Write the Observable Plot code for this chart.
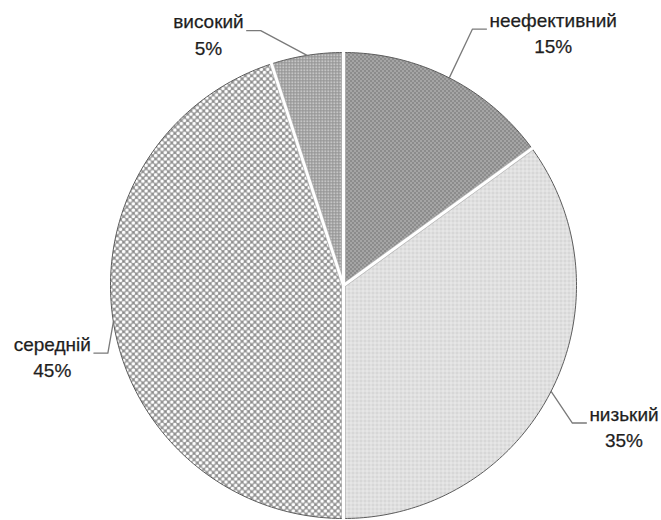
<!DOCTYPE html>
<html>
<head>
<meta charset="utf-8">
<script src="https://cdn.jsdelivr.net/npm/d3@7"></script>
<script src="https://cdn.jsdelivr.net/npm/@observablehq/plot@0.6"></script>
<style>
  html, body { margin: 0; padding: 0; background: #ffffff; }
  #chart { width: 661px; height: 520px; }
</style>
</head>
<body>
<!-- hatch fills used by the pie slices -->
<svg width="0" height="0" style="position:absolute">
  <defs>
    <pattern id="p-neef" width="4" height="4" patternUnits="userSpaceOnUse">
      <rect width="4" height="4" fill="#959595"/>
      <rect x="0" y="0" width="1" height="1" fill="#d4d4d4"/>
      <rect x="2" y="2" width="1" height="1" fill="#d4d4d4"/>
      <rect x="2" y="0" width="1" height="1" fill="#707070"/>
      <rect x="0" y="2" width="1" height="1" fill="#707070"/>
    </pattern>
    <pattern id="p-nyz" width="4" height="4" patternUnits="userSpaceOnUse">
      <rect width="4" height="4" fill="#e6e6e6"/>
      <rect x="0" y="0" width="1" height="1" fill="#a8a8a8"/>
      <rect x="2" y="0" width="1" height="1" fill="#cdcdcd"/>
      <rect x="0" y="2" width="1" height="1" fill="#cdcdcd"/>
    </pattern>
    <pattern id="p-ser" width="6.4" height="6.4" patternUnits="userSpaceOnUse">
      <rect width="6.4" height="6.4" fill="#9c9c9c"/>
      <circle cx="1.6" cy="1.6" r="1.7" fill="#ffffff"/>
      <circle cx="4.8" cy="4.8" r="1.7" fill="#ffffff"/>
      <rect x="4.3" y="1.1" width="1" height="1" fill="#7c7c7c"/>
      <rect x="1.1" y="4.3" width="1" height="1" fill="#7c7c7c"/>
    </pattern>
    <pattern id="p-vys" width="3" height="3" patternUnits="userSpaceOnUse">
      <rect width="3" height="3" fill="#939393"/>
      <rect x="0" y="0" width="1.5" height="1.5" fill="#ececec"/>
    </pattern>
  </defs>
</svg>
<div id="chart"></div>
<script>
// Shares of respondents by level, clockwise from 12 o'clock
const categories = ["неефективний", "низький", "середній", "високий"];
const shares = [15, 35, 45, 5];
const percentLabels = ["15%", "35%", "45%", "5%"];

// Presentation settings
const W = 661, H = 520;
const CX = 343, CY = 285, R = 233;          // pie centre and radius in pixels
const sliceFills = ["url(#p-neef)", "url(#p-nyz)", "url(#p-ser)", "url(#p-vys)"];
// elbow of each leader line: angle shift from the slice middle (deg) and radius in pie radii
const leaderLayout = [
  {shift: -0.3, radius: 1.232, side: 1},
  {shift: 4.0, radius: 1.146, side: 1},
  {shift: -7.0, radius: 1.052, side: -1},
  {shift: -9.0, radius: 1.150, side: -1}
];
const FONT_SIZE = 19;
const FONT = `${FONT_SIZE}px 'Liberation Sans', Arial, sans-serif`;

const rad = (deg) => deg * Math.PI / 180;
const polar = (deg, r) => ({x: r * Math.sin(rad(deg)), y: r * Math.cos(rad(deg))});

const total = d3.sum(shares);
let acc = 0;
const slices = categories.map((cat, i) => {
  const a0 = acc / total * 360;
  acc += shares[i];
  const a1 = acc / total * 360;
  return {cat, a0, a1, mid: (a0 + a1) / 2, fill: sliceFills[i], pct: percentLabels[i]};
});

// closed outline of every slice: centre -> arc -> centre
const sliceRows = slices.flatMap((s) => {
  const n = Math.max(2, Math.ceil(s.a1 - s.a0));
  const pts = [{cat: s.cat, fill: s.fill, x: 0, y: 0}];
  for (let k = 0; k <= n; k++) {
    const p = polar(s.a0 + (s.a1 - s.a0) * k / n, 1);
    pts.push({cat: s.cat, fill: s.fill, ...p});
  }
  pts.push({cat: s.cat, fill: s.fill, x: 0, y: 0});
  return pts;
});

// white separators between slices
const px = 1 / R;
const cuts = slices.map((s) => {
  const inner = polar(s.a0, 1);
  const outer = polar(s.a0, 1 + 2 * px);
  return {x1: 0, y1: 0, x2: inner.x, y2: inner.y, x3: outer.x, y3: outer.y};
});

// leader lines and their two-line labels
const ctx = document.createElement("canvas").getContext("2d");
ctx.font = FONT;
const leaderRows = [];
const labelRows = [];
slices.forEach((s, i) => {
  const L = leaderLayout[i];
  const rim = polar(s.mid, 1);
  const elbow = polar(s.mid + L.shift, L.radius);
  const end = {x: elbow.x + L.side * 14 * px, y: elbow.y};
  leaderRows.push({cat: s.cat, ...rim}, {cat: s.cat, ...elbow}, {cat: s.cat, ...end});
  const w = Math.max(ctx.measureText(s.cat).width, ctx.measureText(s.pct).width);
  labelRows.push({
    text: `${s.cat}\n${s.pct}`,
    x: end.x + L.side * (3 + w / 2) * px,
    y: end.y
  });
});

const chart = Plot.plot({
  width: W,
  height: H,
  margin: 0,
  x: {domain: [-CX / R, (W - CX) / R], range: [0, W], axis: null},
  y: {domain: [-(H - CY) / R, CY / R], range: [H, 0], axis: null},
  color: {type: "identity"},
  style: {fontFamily: "'Liberation Sans', Arial, sans-serif", background: "#ffffff"},
  marks: [
    Plot.line(sliceRows, {x: "x", y: "y", z: "cat", fill: "fill", stroke: "#5c5c5c", strokeWidth: 1, curve: "linear"}),
    Plot.link(cuts, {x1: "x1", y1: "y1", x2: "x2", y2: "y2", stroke: "#b4b4b4", strokeWidth: 4.4}),
    Plot.link(cuts, {x1: "x1", y1: "y1", x2: "x3", y2: "y3", stroke: "#ffffff", strokeWidth: 3}),
    Plot.line(leaderRows, {x: "x", y: "y", z: "cat", stroke: "#7a7a7a", strokeWidth: 1.3, curve: "linear"}),
    Plot.text(labelRows, {
      x: "x", y: "y", text: "text",
      textAnchor: "middle", lineAnchor: "middle", lineHeight: 1.37,
      fontSize: FONT_SIZE, fill: "#1e1e1e", stroke: "#1e1e1e", strokeWidth: 0.25, dy: 2.5
    })
  ]
});
document.getElementById("chart").appendChild(chart);
</script>
</body>
</html>
